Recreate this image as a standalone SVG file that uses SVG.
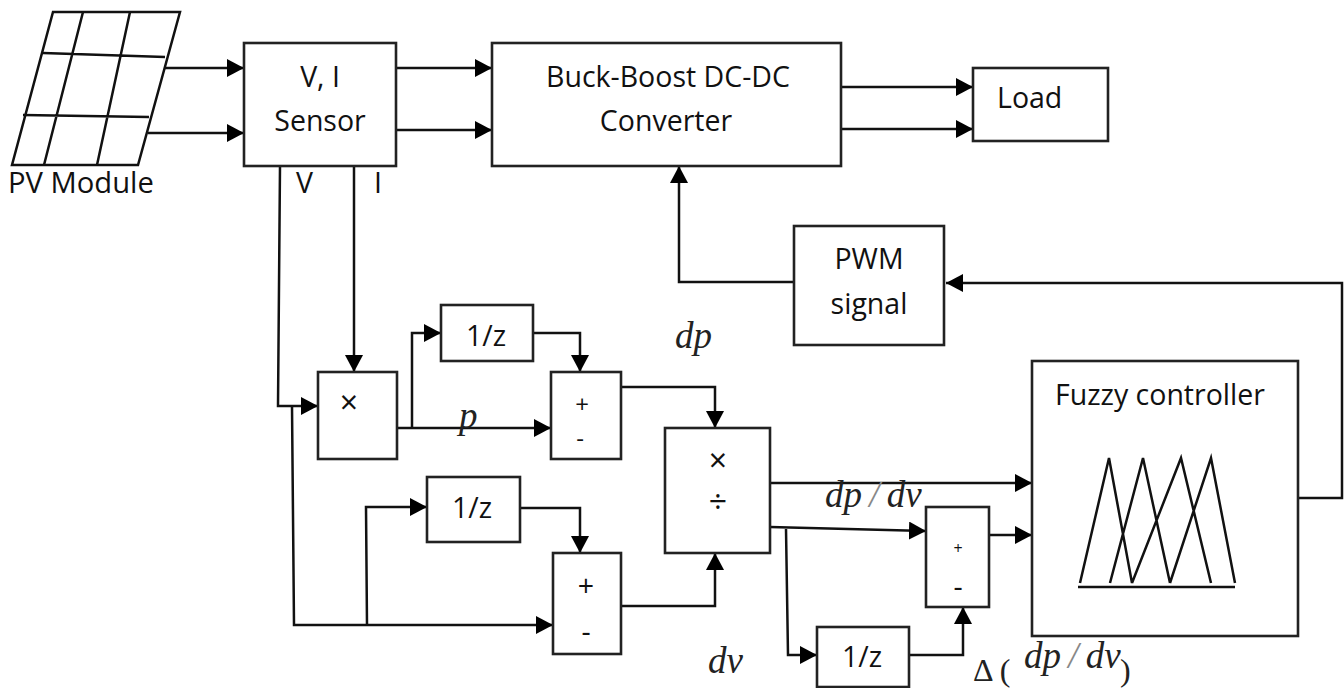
<svg xmlns="http://www.w3.org/2000/svg" width="1344" height="688" viewBox="0 0 1344 688">
<style>
.b{fill:#fff;stroke:#222;stroke-width:2.6}
.l{fill:none;stroke:#111;stroke-width:2.5;stroke-linejoin:miter}
.a{marker-end:url(#arr)}
.t{font-family:"Open Sans","Noto Sans","Liberation Sans",sans-serif;font-size:28.5px;fill:#111}
.c{text-anchor:middle}
.o{font-size:24px}
.x{font-size:32px}
.m{font-family:"Liberation Serif","Times New Roman",serif;font-style:italic;font-size:37px;fill:#222}
.u{font-style:normal;font-size:32px}
.r{word-spacing:-2px}
.s{fill:#888;font-weight:normal}
</style>
<defs>
<marker id="arr" markerUnits="userSpaceOnUse" markerWidth="18" markerHeight="18" refX="17" refY="9" orient="auto"><path d="M0 0L17 9L0 18Z" fill="#000"/></marker>
</defs>
<rect width="1344" height="688" fill="#fff"/>
<g id="connectors">
<path class="l a" d="M165 68H244"/>
<path class="l a" d="M148 133H244"/>
<path class="l a" d="M396 68H492"/>
<path class="l a" d="M396 130H492"/>
<path class="l a" d="M841 87H973"/>
<path class="l a" d="M841 129H973"/>
<path class="l a" d="M280 166L278 406H318"/>
<path class="l a" d="M292 406L294 625H553"/>
<path class="l a" d="M367 625L366 507H427"/>
<path class="l a" d="M354 166V372"/>
<path class="l a" d="M397 428H551"/>
<path class="l a" d="M412 428V333H441"/>
<path class="l a" d="M533 333H580V372"/>
<path class="l a" d="M520 508H580V553"/>
<path class="l a" d="M621 387H715V428"/>
<path class="l a" d="M621 606H715V553"/>
<path class="l a" d="M770 483H1032"/>
<path class="l a" d="M770 527L926 531"/>
<path class="l a" d="M786 529L788 655H817"/>
<path class="l a" d="M909 655H963V607"/>
<path class="l a" d="M989 535H1032"/>
<path class="l a" d="M794 282H679V166"/>
<path class="l a" d="M1298 498H1342V283H946"/>
</g>
<g id="pv-module">
<path class="l" d="M53 12H180L138 165H12Z"/>
<path class="l" d="M43 53L165 57M23 115L149 117M83 12L44 165M130 12L97 165"/>
<text class="t" x="8" y="193" style="font-size:29.2px">PV Module</text>
</g>
<g id="sensor">
<rect class="b" x="244" y="43" width="152" height="123"/>
<text class="t c" x="320" y="87">V, I</text>
<text class="t c" x="320" y="131">Sensor</text>
<text class="t" x="296" y="193">V</text>
<text class="t" x="374" y="193">I</text>
</g>
<g id="converter">
<rect class="b" x="492" y="43" width="349" height="123"/>
<text class="t c" x="668" y="87">Buck-Boost DC-DC</text>
<text class="t c" x="666" y="131">Converter</text>
</g>
<g id="load">
<rect class="b" x="973" y="68" width="135" height="73"/>
<text class="t" x="997" y="108">Load</text>
</g>
<g id="pwm">
<rect class="b" x="794" y="226" width="150" height="119"/>
<text class="t c" x="869" y="269">PWM</text>
<text class="t c" x="869" y="314">signal</text>
</g>
<g id="fuzzy">
<rect class="b" x="1032" y="361" width="266" height="275"/>
<text class="t" x="1055" y="405">Fuzzy controller</text>
<path class="l" d="M1080 583L1109 458L1132 583M1110 583L1143 458L1170 583M1132 583L1181 458L1211 583M1170 583L1211 458L1235 583"/>
<path class="l" d="M1078 587H1235"/>
</g>
<g id="mult">
<rect class="b" x="318" y="372" width="79" height="87"/>
<text class="t c x" x="349" y="414">×</text>
</g>
<g id="delay1">
<rect class="b" x="441" y="305" width="92" height="56"/>
<text class="t c" x="486" y="346">1/z</text>
</g>
<g id="sum1">
<rect class="b" x="551" y="372" width="70" height="87"/>
<text class="t c o" x="582" y="413">+</text>
<text class="t c o" x="580" y="447">-</text>
</g>
<g id="delay2">
<rect class="b" x="427" y="477" width="93" height="65"/>
<text class="t c" x="472" y="518">1/z</text>
</g>
<g id="sum2">
<rect class="b" x="553" y="553" width="68" height="101"/>
<text class="t c" x="586" y="596">+</text>
<text class="t c" x="586" y="642">-</text>
</g>
<g id="muldiv">
<rect class="b" x="665" y="428" width="105" height="125"/>
<text class="t c x" x="718" y="472">×</text>
<text class="t c x" x="718" y="513">÷</text>
</g>
<g id="sum3">
<rect class="b" x="926" y="507" width="63" height="100"/>
<text class="t c" x="958" y="554" style="font-size:16px">+</text>
<text class="t c" x="958" y="597">-</text>
</g>
<g id="delay3">
<rect class="b" x="817" y="627" width="92" height="60"/>
<text class="t c" x="862" y="667">1/z</text>
</g>
<g id="labels">
<text class="m" x="675" y="348">dp</text>
<text class="m" x="459" y="428">p</text>
<text class="m" x="708" y="673">dv</text>
<text class="m r" x="825" y="507">dp <tspan class="s">/</tspan> dv</text>
<text class="m u" x="973" y="681">Δ (</text>
<text class="m r" x="1024" y="668">dp <tspan class="s">/</tspan> dv</text>
<text class="m u" x="1120" y="681">)</text>
</g>
</svg>
